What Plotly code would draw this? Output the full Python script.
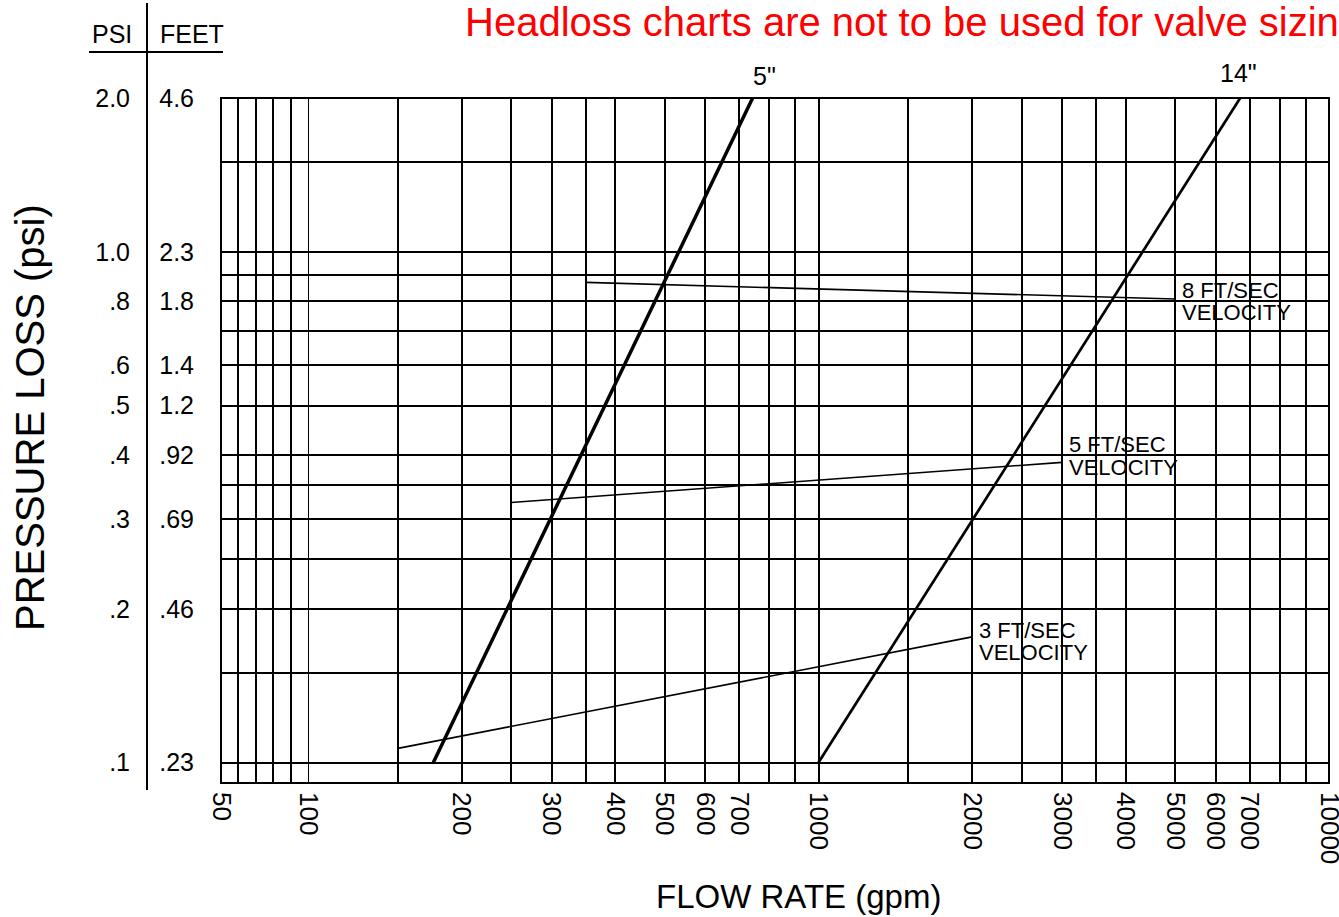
import math
import plotly.graph_objects as go

# ---------------- data ----------------
x_lin_grid = [50, 60, 70, 80, 90]
x_lin_labels = ["50", "", "", "", ""]
x_log_grid = [100, 150, 200, 250, 300, 350, 400, 500, 600, 700, 800, 900,
              1000, 1500, 2000, 2500, 3000, 3500, 4000, 5000, 6000, 7000, 8000, 9000, 10000]
x_log_labels = ["100", "", "200", "", "300", "", "400", "500", "600", "700", "", "",
                "1000", "", "2000", "", "3000", "", "4000", "5000", "6000", "7000", "", "", "10000"]
y_grid = [0.1, 0.15, 0.2, 0.25, 0.3, 0.35, 0.4, 0.5, 0.6, 0.7, 0.8, 0.9, 1.0, 1.5, 2.0]
psi_labels = [".1", "", ".2", "", ".3", "", ".4", ".5", ".6", "", ".8", "", "1.0", "", "2.0"]
feet_vals = [0.1, 0.2, 0.3, 0.4, 0.5, 0.6, 0.8, 1.0, 2.0]
feet_labels = [".23", ".46", ".69", ".92", "1.2", "1.4", "1.8", "2.3", "4.6"]

pipe_names = ['5"', '14"']
pipe_5_gpm = [176, 743]
pipe_5_psi = [0.1, 2.0]
pipe_14_gpm = [1000, 6700]
pipe_14_psi = [0.1, 2.0]

vel_names = ["8 FT/SEC", "5 FT/SEC", "3 FT/SEC"]
vel_8_gpm = [350, 5000]
vel_8_psi = [0.871, 0.808]
vel_5_gpm = [250, 3000]
vel_5_psi = [0.323, 0.387]
vel_3_gpm = [150, 2000]
vel_3_psi = [0.1066, 0.1762]

# ---------------- layout geometry (page pixels; body margin removed below) ----------------
W, H = 1339, 917
PL, PR, PT, PB = 221, 1329, 98, 783          # plot area in page pixels
ML, MT = PL, PT
MR, MB = W - PR, H - PB
PW, PH = PR - PL, PB - PT
split = 87.0 / PW
FONT = "Liberation Sans, Arial, sans-serif"


def px(xp):
    return (xp - PL) / PW


def py(yp):
    return (PB - yp) / PH


fig = go.Figure()

pipes = [(pipe_5_gpm, pipe_5_psi, 3.5), (pipe_14_gpm, pipe_14_psi, 2.7)]
for (gx, gy, w), name in zip(pipes, pipe_names):
    fig.add_trace(go.Scatter(x=gx, y=gy, mode="lines", xaxis="x2", yaxis="y",
                             line=dict(color="black", width=w), name=name,
                             showlegend=False, hoverinfo="skip"))

vels = [(vel_8_gpm, vel_8_psi), (vel_5_gpm, vel_5_psi), (vel_3_gpm, vel_3_psi)]
for (gx, gy), name in zip(vels, vel_names):
    fig.add_trace(go.Scatter(x=gx, y=gy, mode="lines", xaxis="x2", yaxis="y",
                             line=dict(color="black", width=1.6), name=name,
                             showlegend=False, hoverinfo="skip"))

# invisible traces so the left (50-100 gpm) panel and the FEET axis are drawn
fig.add_trace(go.Scatter(x=[75], y=[1.0], xaxis="x", yaxis="y", mode="markers",
                         marker=dict(opacity=0), showlegend=False, hoverinfo="skip"))
fig.add_trace(go.Scatter(x=[75], y=[1.0], xaxis="x", yaxis="y2", mode="markers",
                         marker=dict(opacity=0), showlegend=False, hoverinfo="skip"))

ylo, yhi = math.log10(0.0912), math.log10(2.0)
grid = dict(showgrid=True, gridcolor="black", gridwidth=2, zeroline=False,
            showline=False, ticks="", tickmode="array", automargin=False)
xtick = dict(tickangle=90, tickfont=dict(family=FONT, size=26, color="black"),
             ticklabelstandoff=8, ticklabeloverflow="allow")

fig.update_layout(
    width=W, height=H, autosize=False,
    margin=dict(l=ML, r=MR, t=MT, b=MB, pad=0),
    paper_bgcolor="white", plot_bgcolor="white",
    showlegend=False,
    xaxis=dict(domain=[0, split], range=[50, 100], type="linear", anchor="y",
               tickvals=x_lin_grid, ticktext=x_lin_labels, **grid, **xtick),
    xaxis2=dict(domain=[split, 1], range=[2, 4], type="log", anchor="y",
                tickvals=x_log_grid, ticktext=x_log_labels, **grid, **xtick),
    yaxis=dict(type="log", range=[ylo, yhi], anchor="x", tickvals=y_grid, ticktext=psi_labels,
               tickfont=dict(family=FONT, size=25, color="black"), ticklabelstandoff=90, **grid),
    yaxis2=dict(type="log", range=[ylo, yhi], overlaying="y", anchor="x", side="left",
                tickvals=feet_vals, ticktext=feet_labels, showgrid=False, zeroline=False,
                showline=False, ticks="", tickmode="array", automargin=False,
                tickfont=dict(family=FONT, size=25, color="black"), ticklabelstandoff=26),
)

shapes = [
    dict(type="rect", xref="paper", yref="paper", x0=0, x1=1, y0=0, y1=1,
         line=dict(color="black", width=2), layer="above"),
    # grid line at the 100 gpm panel boundary
    dict(type="line", xref="x2", yref="paper", x0=x_log_grid[0], x1=x_log_grid[0], y0=0, y1=1,
         line=dict(color="black", width=2), layer="below"),
    dict(type="line", xref="paper", yref="paper", x0=px(147), x1=px(147), y0=py(3), y1=py(790),
         line=dict(color="black", width=2)),
    dict(type="line", xref="paper", yref="paper", x0=px(89), x1=px(223), y0=py(52), y1=py(52),
         line=dict(color="black", width=2)),
    # gap in the 1000 gpm grid line between 0.7 and 0.8 psi
    dict(type="line", xref="x2", yref="y", x0=x_log_grid[12], x1=x_log_grid[12],
         y0=y_grid[9] * 1.01, y1=y_grid[10] * 0.99, line=dict(color="white", width=4), layer="below"),
]
fig.update_layout(shapes=shapes)

ann = []
ann.append(dict(text="Headloss charts are not to be used for valve sizing", xref="paper", yref="paper",
                x=px(463), y=py(22), xanchor="left", yanchor="middle", showarrow=False,
                font=dict(family=FONT, size=40, color="#ff0000")))
ann.append(dict(text="PSI", xref="paper", yref="paper", x=px(112), y=py(34), xanchor="center",
                yanchor="middle", showarrow=False, font=dict(family=FONT, size=25, color="black")))
ann.append(dict(text="FEET", xref="paper", yref="paper", x=px(192), y=py(34), xanchor="center",
                yanchor="middle", showarrow=False, font=dict(family=FONT, size=25, color="black")))
ann.append(dict(text="PRESSURE LOSS (psi)", xref="paper", yref="paper", x=px(30), y=py(418),
                xanchor="center", yanchor="middle", textangle=-90, showarrow=False,
                font=dict(family=FONT, size=40, color="black")))
ann.append(dict(text="FLOW RATE (gpm)", xref="paper", yref="paper", x=px(798), y=py(896),
                xanchor="center", yanchor="middle", showarrow=False,
                font=dict(family=FONT, size=33, color="black")))
# pipe size labels at the top ends of the lines
ann.append(dict(text=pipe_names[0], xref="x2", yref="y", x=math.log10(pipe_5_gpm[1]),
                y=math.log10(pipe_5_psi[1]), xshift=12, yshift=22, showarrow=False,
                font=dict(family=FONT, size=25, color="black")))
ann.append(dict(text=pipe_names[1], xref="x2", yref="y", x=math.log10(pipe_14_gpm[1]),
                y=math.log10(pipe_14_psi[1]), xshift=-2, yshift=25, showarrow=False,
                font=dict(family=FONT, size=25, color="black")))
# velocity labels
vel_shifts = [(8.6, -13.7), (17.7, -5.3), (6.7, -16.0)]
for (gx, gy), name, (s1, s2) in zip(vels, vel_names, vel_shifts):
    for txt, s in ((name, s1), ("VELOCITY", s2)):
        ann.append(dict(text=txt, xref="x2", yref="y", x=math.log10(gx[1]), y=math.log10(gy[1]),
                        xanchor="left", yanchor="middle", xshift=5, yshift=s, showarrow=False,
                        font=dict(family=FONT, size=22, color="black")))
fig.update_layout(annotations=ann)

fig.write_html("out.html", config={"displayModeBar": False},
               post_script="document.body.style.margin='0px';document.body.style.overflow='hidden';")
